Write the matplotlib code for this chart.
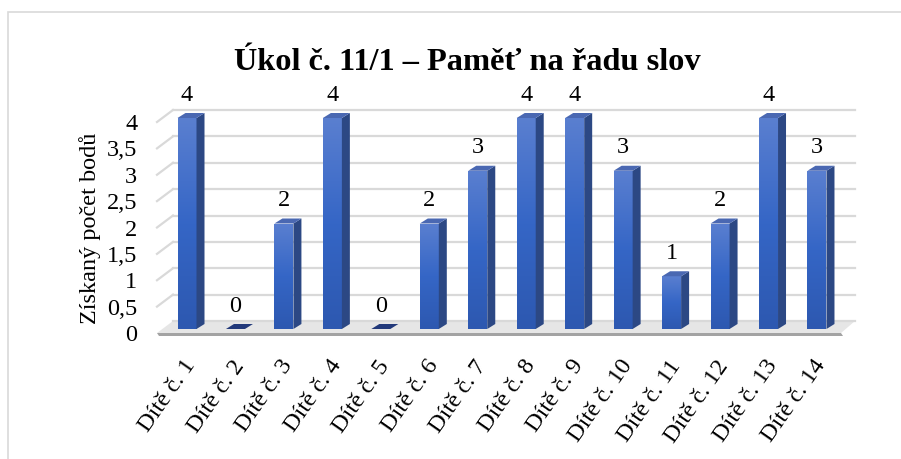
import numpy as np
import matplotlib
matplotlib.use("Agg")
import matplotlib.pyplot as plt
from matplotlib.patches import Polygon, Rectangle
from matplotlib.lines import Line2D
from matplotlib.colors import LinearSegmentedColormap
import matplotlib.transforms as mtransforms

# ---- data ----
categories = ["Dítě č. 1", "Dítě č. 2", "Dítě č. 3", "Dítě č. 4", "Dítě č. 5",
              "Dítě č. 6", "Dítě č. 7", "Dítě č. 8", "Dítě č. 9", "Dítě č. 10",
              "Dítě č. 11", "Dítě č. 12", "Dítě č. 13", "Dítě č. 14"]
values = [4, 0, 2, 4, 0, 2, 3, 4, 4, 3, 1, 2, 4, 3]
yticks = [0, 0.5, 1, 1.5, 2, 2.5, 3, 3.5, 4]
ytick_labels = ["0", "0,5", "1", "1,5", "2", "2,5", "3", "3,5", "4"]
title = "Úkol č. 11/1 – Paměť na řadu slov"
ylabel = "Získaný počet bodů"

plt.rcParams['font.family'] = ['Liberation Serif', 'DejaVu Serif']

W, H = 901, 459
fig = plt.figure(figsize=(W / 100, H / 100), dpi=100)

# axes layout in pixels
ax_l, ax_r, ax_t, ax_b = 140, 880, 95, 345
x0_px, step_px = 187.0, 48.46      # bar 0 centre, spacing
y0_px, unit_px = 329.0, 52.75      # value 0 front plane, px per unit
ax = fig.add_axes([ax_l / W, 1 - ax_b / H, (ax_r - ax_l) / W, (ax_b - ax_t) / H])
xlim = ((ax_l - x0_px) / step_px, (ax_r - x0_px) / step_px)
ylim = ((y0_px - ax_b) / unit_px, (y0_px - ax_t) / unit_px)

def px2dx(p):
    return p / step_px

def px2dy(p):
    return p / unit_px

# chart border
fig.patches.append(Rectangle((8 / W, -0.05), 1.2, 1 - 12 / H + 0.05, transform=fig.transFigure,
                             fill=False, edgecolor="#d9d9d9", lw=1.2))

# ---- walls / floor ----
wx_front_l = px2dx(157 - x0_px)
wx_back_l = px2dx(173 - x0_px)
wx_back_r = px2dx(855 - x0_px)
wx_front_r = px2dx(841 - x0_px)
front_dy = -px2dy(4)
back_dy = px2dy(8)

floor = Polygon([(wx_front_l, front_dy), (wx_back_l, back_dy), (wx_back_r, back_dy),
                 (wx_front_r, front_dy)], closed=True, facecolor="#e6e6e6",
                edgecolor="none", zorder=1)
ax.add_patch(floor)
edge_h = px2dy(3)
floor_edge = Polygon([(wx_front_l, front_dy), (wx_front_r, front_dy),
                      (wx_front_r + px2dx(2), front_dy - edge_h), (wx_front_l + px2dx(2), front_dy - edge_h)],
                     closed=True, facecolor="#a3a3a3", edgecolor="none", zorder=1)
ax.add_patch(floor_edge)

for v in yticks:
    ax.add_line(Line2D([wx_back_l, wx_back_r], [v + back_dy, v + back_dy],
                       color="#d9d9d9", lw=1.6, zorder=2))
    if v > 0:
        ax.add_line(Line2D([wx_front_l, wx_back_l], [v + front_dy, v + back_dy],
                           color="#d9d9d9", lw=1.6, zorder=2))

# ---- bars ----
xs = np.arange(len(values))
bw = px2dx(19)
ddx, ddy = px2dx(8), px2dy(5)
grad = np.linspace(0, 1, 256).reshape(-1, 1)
cmap = LinearSegmentedColormap.from_list("bar", ["#2d58b0", "#3566c6", "#5a7fd0"])
side_c = "#2c4884"
top_c = "#4a68b2"

bars = ax.bar(xs, values, width=bw, color="none", edgecolor="none", zorder=3)
for x, v, b in zip(xs, values, bars):
    xl, xr = x - bw / 2, x + bw / 2
    if v > 0:
        im = ax.imshow(grad, extent=[xl, xr, 0, v], origin="lower", cmap=cmap,
                       aspect="auto", zorder=3, interpolation="bilinear")
        im.set_clip_path(b)
        ax.add_patch(Polygon([(xr, 0), (xr + ddx, ddy), (xr + ddx, v + ddy), (xr, v)],
                             closed=True, facecolor=side_c, edgecolor="none", zorder=3))
        ax.add_patch(Polygon([(xl, v), (xr, v), (xr + ddx, v + ddy), (xl + ddx, v + ddy)],
                             closed=True, facecolor=top_c, edgecolor="none", zorder=3))
    else:
        ax.add_patch(Polygon([(xl, v), (xr, v), (xr + ddx, v + ddy), (xl + ddx, v + ddy)],
                             closed=True, facecolor="#22397a", edgecolor="none", zorder=3))
    ax.annotate(f"{v}", (x, v), xytext=(0, 16.5), textcoords="offset points",
                ha="center", va="center", fontsize=17.5, color="#000000", zorder=5)

ax.set_xlim(*xlim)
ax.set_ylim(*ylim)
for s in ax.spines.values():
    s.set_visible(False)
ax.patch.set_visible(False)

ax.set_yticks(yticks)
ax.set_yticklabels(ytick_labels, fontsize=17.5)
ax.tick_params(axis="y", length=0, pad=2)
ax.set_xticks(xs)
ax.set_xticklabels(categories, fontsize=17.5, rotation=55, ha="right", va="top",
                   rotation_mode="anchor")
ax.tick_params(axis="x", length=0, pad=8)

off_y = mtransforms.ScaledTranslation(0, -4 / 100, fig.dpi_scale_trans)
for lab in ax.get_yticklabels():
    lab.set_transform(lab.get_transform() + off_y)
off_x = mtransforms.ScaledTranslation(-4 / 100, 0, fig.dpi_scale_trans)
for lab in ax.get_xticklabels():
    lab.set_transform(lab.get_transform() + off_x)

fig.text(467 / W, 1 - 70 / H, title, ha="center", va="baseline", fontsize=23.3,
         fontweight="bold")
fig.text(90 / W, 1 - 228 / H, ylabel, ha="center", va="center", rotation=90, fontsize=17.5)

fig.savefig("out.png", dpi=100)
